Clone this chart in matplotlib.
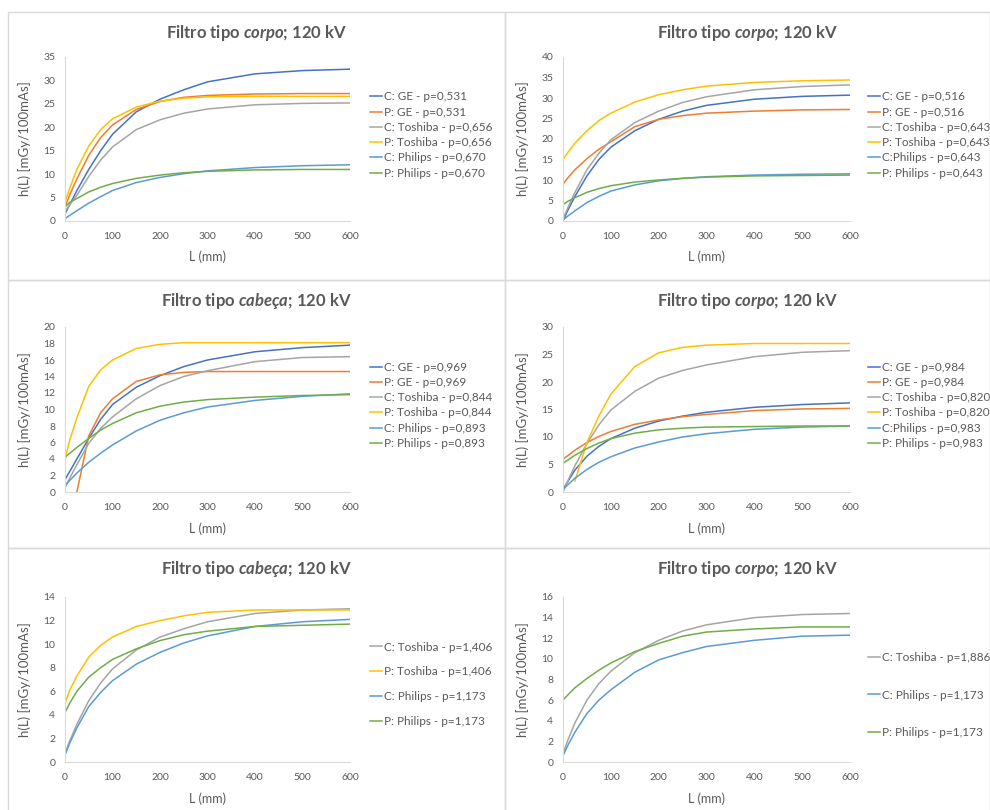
import numpy as np
import matplotlib
matplotlib.use("Agg")
import matplotlib.pyplot as plt
from matplotlib.patches import Rectangle

NA = np.nan

# comprimento L (mm) onde as curvas foram lidas
L_mm = [0, 10, 25, 50, 75, 100, 150, 200, 250, 300, 400, 500, 600]

# painel 1 - corpo
p1_labels = ["C: GE - p=0,531", "P: GE - p=0,531", "C: Toshiba - p=0,656",
             "P: Toshiba - p=0,656", "C: Philips - p=0,670", "P: Philips - p=0,670"]
p1_c_ge = [1.5, 3.5, 6.5, 11.0, 15.0, 18.5, 23.3, 26.0, 28.0, 29.7, 31.4, 32.1, 32.4]
p1_p_ge = [3.0, 5.6, 9.0, 14.0, 17.8, 20.5, 23.8, 25.5, 26.4, 26.8, 27.1, 27.2, 27.2]
p1_c_tosh = [2.0, 3.5, 5.5, 9.5, 13.0, 15.8, 19.5, 21.6, 23.0, 23.9, 24.8, 25.1, 25.2]
p1_p_tosh = [4.0, 7.0, 11.0, 16.0, 19.5, 21.8, 24.3, 25.6, 26.2, 26.5, 26.6, 26.6, 26.6]
p1_c_phil = [0.5, 1.2, 2.2, 3.8, 5.2, 6.5, 8.2, 9.3, 10.1, 10.7, 11.4, 11.8, 12.0]
p1_p_phil = [3.0, 4.0, 4.8, 6.2, 7.2, 8.0, 9.1, 9.8, 10.3, 10.6, 10.9, 11.0, 11.0]

# painel 2 - corpo
p2_labels = ["C: GE - p=0,516", "P: GE - p=0,516", "C: Toshiba - p=0,643",
             "P: Toshiba - p=0,643", "C:Philips - p=0,643", "P: Philips - p=0,643"]
p2_c_ge = [0.0, 2.6, 6.0, 11.0, 15.0, 18.0, 22.0, 24.8, 26.8, 28.2, 29.7, 30.4, 30.7]
p2_p_ge = [9.0, 10.5, 12.5, 15.2, 17.5, 19.3, 23.0, 24.8, 25.7, 26.3, 26.8, 27.1, 27.2]
p2_c_tosh = [0.5, 3.2, 7.0, 12.5, 16.5, 19.8, 24.0, 26.8, 28.9, 30.3, 32.0, 32.8, 33.2]
p2_p_tosh = [15.0, 16.7, 19.0, 22.0, 24.5, 26.3, 29.0, 30.8, 32.0, 32.9, 33.8, 34.2, 34.4]
p2_c_phil = [0.3, 1.2, 2.5, 4.5, 6.0, 7.3, 8.8, 9.8, 10.4, 10.8, 11.2, 11.4, 11.5]
p2_p_phil = [4.0, 4.8, 5.7, 7.0, 7.9, 8.6, 9.5, 10.0, 10.4, 10.7, 11.0, 11.1, 11.2]

# painel 3 - cabeca
p3_labels = ["C: GE - p=0,969", "P: GE - p=0,969", "C: Toshiba - p=0,844",
             "P: Toshiba - p=0,844", "C: Philips - p=0,893", "P: Philips - p=0,893"]
p3_c_ge = [1.5, 2.5, 4.0, 6.5, 8.8, 10.6, 12.7, 14.1, 15.2, 16.0, 17.0, 17.5, 17.8]
p3_p_ge = [NA, NA, 0.0, 6.8, 9.6, 11.3, 13.4, 14.2, 14.5, 14.6, 14.6, 14.6, 14.6]
p3_c_tosh = [0.5, 1.7, 3.3, 5.9, 7.7, 9.1, 11.3, 12.9, 14.0, 14.7, 15.8, 16.3, 16.4]
p3_p_tosh = [4.0, 6.3, 9.0, 12.8, 14.8, 16.0, 17.4, 17.9, 18.1, 18.1, 18.1, 18.1, 18.1]
p3_c_phil = [0.8, 1.4, 2.3, 3.6, 4.7, 5.7, 7.4, 8.7, 9.6, 10.3, 11.1, 11.6, 11.9]
p3_p_phil = [4.2, 4.7, 5.4, 6.5, 7.5, 8.3, 9.6, 10.4, 10.9, 11.2, 11.5, 11.7, 11.8]

# painel 4 - corpo
p4_labels = ["C: GE - p=0,984", "P: GE - p=0,984", "C: Toshiba - p=0,820",
             "P: Toshiba - p=0,820", "C:Philips - p=0,983", "P: Philips - p=0,983"]
p4_c_ge = [0.5, 1.9, 4.0, 6.5, 8.3, 9.7, 11.6, 12.9, 13.8, 14.5, 15.4, 15.9, 16.2]
p4_p_ge = [6.0, 6.6, 7.6, 9.0, 10.1, 11.0, 12.3, 13.1, 13.7, 14.1, 14.8, 15.1, 15.2]
p4_c_tosh = [0.0, 2.0, 4.8, 8.8, 12.2, 14.9, 18.3, 20.7, 22.1, 23.1, 24.6, 25.4, 25.7]
p4_p_tosh = [NA, NA, 2.0, 9.0, 13.8, 17.8, 22.8, 25.3, 26.3, 26.7, 27.0, 27.0, 27.0]
p4_c_phil = [0.5, 1.3, 2.5, 4.1, 5.4, 6.4, 8.0, 9.1, 10.0, 10.6, 11.4, 11.8, 12.0]
p4_p_phil = [5.2, 5.8, 6.7, 7.9, 8.9, 9.7, 10.7, 11.3, 11.6, 11.8, 11.9, 12.0, 12.0]

# painel 5 - cabeca
p5_labels = ["C: Toshiba - p=1,406", "P: Toshiba - p=1,406",
             "C: Philips - p=1,173", "P: Philips - p=1,173"]
p5_c_tosh = [0.7, 1.8, 3.2, 5.2, 6.7, 7.9, 9.5, 10.6, 11.3, 11.9, 12.6, 12.9, 13.0]
p5_p_tosh = [5.0, 6.1, 7.3, 8.9, 9.9, 10.6, 11.5, 12.0, 12.4, 12.7, 12.9, 12.9, 12.9]
p5_c_phil = [0.6, 1.6, 2.9, 4.7, 5.9, 6.9, 8.3, 9.3, 10.1, 10.7, 11.5, 11.9, 12.1]
p5_p_phil = [4.2, 5.0, 6.0, 7.2, 8.0, 8.7, 9.6, 10.3, 10.8, 11.1, 11.5, 11.6, 11.7]

# painel 6 - corpo
p6_labels = ["C: Toshiba - p=1,886", "C: Philips - p=1,173", "P: Philips - p=1,173"]
p6_c_tosh = [0.8, 2.1, 3.8, 6.0, 7.6, 8.8, 10.6, 11.8, 12.7, 13.3, 14.0, 14.3, 14.4]
p6_c_phil = [0.6, 1.6, 2.9, 4.7, 6.0, 7.0, 8.7, 9.9, 10.6, 11.2, 11.8, 12.2, 12.3]
p6_p_phil = [6.0, 6.5, 7.2, 8.1, 8.9, 9.6, 10.7, 11.5, 12.2, 12.6, 12.9, 13.1, 13.1]

# cores padrao do Excel
BLUE, ORANGE, GRAY, GOLD, LBLUE, GREEN = "#4472C4", "#ED7D31", "#A5A5A5", "#FFC000", "#5B9BD5", "#70AD47"
six = [BLUE, ORANGE, GRAY, GOLD, LBLUE, GREEN]
TXT = "#595959"

plt.rcParams["font.family"] = ["Lato", "DejaVu Sans"]
plt.rcParams["mathtext.fontset"] = "custom"
plt.rcParams["mathtext.it"] = "Lato:italic:bold"
plt.rcParams["mathtext.rm"] = "Lato:bold"

W, H = 990, 810
fig = plt.figure(figsize=(W / 100, H / 100), dpi=100)

plot_x = [(65, 350), (563, 850)]
plot_y = [(57, 221), (327, 492), (597, 762)]
chart_x = [(8, 505), (505, 990)]
chart_y = [(12, 280), (280, 548), (548, 812)]

panels = [
    (0, 0, "corpo", 35, 5, p1_labels, [p1_c_ge, p1_p_ge, p1_c_tosh, p1_p_tosh, p1_c_phil, p1_p_phil], six, 0.79, 0.36),
    (0, 1, "corpo", 40, 5, p2_labels, [p2_c_ge, p2_p_ge, p2_c_tosh, p2_p_tosh, p2_c_phil, p2_p_phil], six, 0.79, 0.36),
    (1, 0, "cabeça", 20, 2, p3_labels, [p3_c_ge, p3_p_ge, p3_c_tosh, p3_p_tosh, p3_c_phil, p3_p_phil], six, 0.79, 0.36),
    (1, 1, "corpo", 30, 5, p4_labels, [p4_c_ge, p4_p_ge, p4_c_tosh, p4_p_tosh, p4_c_phil, p4_p_phil], six, 0.79, 0.36),
    (2, 0, "cabeça", 14, 2, p5_labels, [p5_c_tosh, p5_p_tosh, p5_c_phil, p5_p_phil], [GRAY, GOLD, LBLUE, GREEN], 0.73, 1.17),
    (2, 1, "corpo", 16, 2, p6_labels, [p6_c_tosh, p6_c_phil, p6_p_phil], [GRAY, LBLUE, GREEN], 0.665, 2.23),
]

# fundo branco da coluna direita, cobre o texto das legendas da esquerda
fig.add_artist(Rectangle((505 / W, 0), 1, 1, transform=fig.transFigure,
                         facecolor="white", edgecolor="none", zorder=0.5))

for row, col, kind, ymax, ystep, labels, series, colors, leg_y, leg_sp in panels:
    x0, x1 = plot_x[col]
    yt, yb = plot_y[row]
    ax = fig.add_axes([x0 / W, 1 - yb / H, (x1 - x0) / W, (yb - yt) / H])
    ax.set_zorder(1 if col == 1 else 0)
    for vals, c, lab in zip(series, colors, labels):
        ax.plot(L_mm, vals, color=c, lw=1.1, label=lab)
    ax.set_xlim(0, 600)
    ax.set_ylim(0, ymax)
    ax.set_xticks(range(0, 601, 100))
    ax.set_yticks(np.arange(0, ymax + 0.1, ystep))
    for s in ["top", "right"]:
        ax.spines[s].set_visible(False)
    for s in ["left", "bottom"]:
        ax.spines[s].set_color("#D9D9D9")
        ax.spines[s].set_linewidth(0.8)
    ax.tick_params(length=0, labelsize=7.5, labelcolor=TXT)
    ax.tick_params(axis="x", pad=8)
    ax.tick_params(axis="y", pad=7)
    ax.text(0.5, -0.22, "L (mm)", transform=ax.transAxes, ha="center", va="center",
            fontsize=9, color=TXT)
    ax.text(-40 / (x1 - x0), 0.5, "h(L) [mGy/100mAs]", transform=ax.transAxes, rotation=90,
            ha="center", va="center", fontsize=9.5, color=TXT)
    leg = ax.legend(loc="upper left", bbox_to_anchor=(305 / (x1 - x0), leg_y),
                    frameon=False, fontsize=8.5, handlelength=1.0, handletextpad=0.2,
                    labelspacing=leg_sp, borderpad=0, borderaxespad=0)
    for t in leg.get_texts():
        t.set_color(TXT)

    cx = (chart_x[col][0] + chart_x[col][1]) / 2
    ty = chart_y[row][0] + 21
    fig.text(cx / W, 1 - ty / H, "Filtro tipo $" + kind + "$; 120 kV", ha="center", va="center",
             fontsize=12, fontweight="bold", color=TXT)

# molduras dos graficos
for (a, b) in chart_x:
    for (c, d) in chart_y:
        fig.add_artist(Rectangle((a / W, 1 - d / H), (b - a) / W, (d - c) / H, transform=fig.transFigure,
                                 facecolor="none", edgecolor="#D9D9D9", lw=1.0, zorder=3))

fig.savefig("out.png", dpi=100)
